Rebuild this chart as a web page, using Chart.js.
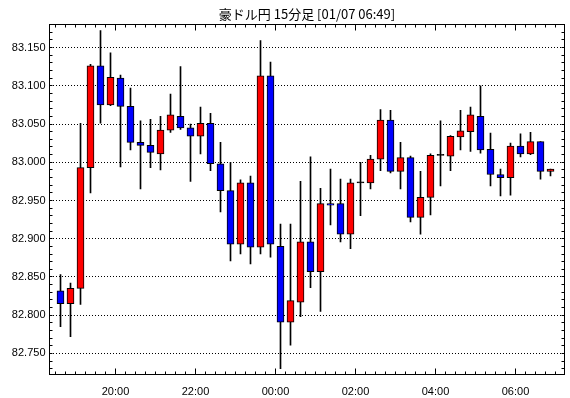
<!DOCTYPE html>
<html>
<head>
<meta charset="utf-8">
<script src="https://cdn.jsdelivr.net/npm/chart.js@4/dist/chart.umd.min.js"></script>
<style>
  html, body { margin: 0; padding: 0; background: #fff; }
</style>
</head>
<body>
<canvas id="chart" width="570" height="398"></canvas>
<script>
// 15-minute candles, 18:30 .. 06:45
const times = [
  '18:30', '18:45', '19:00', '19:15', '19:30', '19:45', '20:00', '20:15', '20:30', '20:45',
  '21:00', '21:15', '21:30', '21:45', '22:00', '22:15', '22:30', '22:45', '23:00', '23:15',
  '23:30', '23:45', '00:00', '00:15', '00:30', '00:45', '01:00', '01:15', '01:30', '01:45',
  '02:00', '02:15', '02:30', '02:45', '03:00', '03:15', '03:30', '03:45', '04:00', '04:15',
  '04:30', '04:45', '05:00', '05:15', '05:30', '05:45', '06:00', '06:15', '06:30', '06:45'
];
const open = [
  82.832, 82.815, 82.835, 82.993, 83.126, 83.075, 83.110, 83.073, 83.026, 83.022,
  83.011, 83.042, 83.060, 83.045, 83.034, 83.051, 82.998, 82.963, 82.893, 82.973,
  82.889, 83.113, 82.890, 82.791, 82.817, 82.896, 82.857, 82.946, 82.946, 82.906,
  82.973, 82.973, 83.004, 83.055, 82.988, 83.006, 82.928, 82.954, 83.009, 83.008,
  83.033, 83.040, 83.060, 83.017, 82.984, 82.980, 83.021, 83.011, 83.027, 82.988
];
const high = [
  82.853, 82.842, 83.051, 83.128, 83.172, 83.143, 83.114, 83.097, 83.054, 83.056,
  83.060, 83.089, 83.125, 83.050, 83.072, 83.064, 83.026, 83.000, 82.977, 82.982,
  83.159, 83.131, 82.919, 82.919, 82.975, 83.007, 82.966, 82.991, 82.978, 82.978,
  83.000, 83.009, 83.069, 83.068, 83.026, 83.008, 82.988, 83.011, 83.054, 83.035,
  83.068, 83.072, 83.100, 83.038, 82.991, 83.025, 83.037, 83.039, 83.027, 82.991
];
const low = [
  82.785, 82.772, 82.814, 82.960, 83.051, 83.074, 82.994, 83.016, 82.965, 82.993,
  82.990, 83.039, 83.043, 82.975, 83.011, 82.989, 82.935, 82.871, 82.880, 82.867,
  82.880, 82.876, 82.730, 82.761, 82.798, 82.836, 82.805, 82.918, 82.896, 82.887,
  82.930, 82.965, 82.989, 82.986, 82.965, 82.922, 82.906, 82.931, 82.969, 82.989,
  83.016, 83.014, 83.012, 82.969, 82.956, 82.957, 83.007, 83.010, 82.978, 82.982
];
const close = [
  82.815, 82.835, 82.993, 83.126, 83.075, 83.111, 83.073, 83.026, 83.022, 83.013,
  83.042, 83.062, 83.045, 83.034, 83.051, 82.998, 82.963, 82.893, 82.973, 82.889,
  83.113, 82.893, 82.791, 82.819, 82.896, 82.857, 82.946, 82.944, 82.906, 82.973,
  82.973, 83.004, 83.055, 82.988, 83.006, 82.928, 82.954, 83.009, 83.009, 83.034,
  83.041, 83.062, 83.016, 82.984, 82.980, 83.021, 83.011, 83.027, 82.988, 82.991
];
const timeLabels = ['20:00', '22:00', '00:00', '02:00', '04:00', '06:00'];
const priceLabels = [82.75, 82.80, 82.85, 82.90, 82.95, 83.00, 83.05, 83.10, 83.15];

Chart.defaults.font.family = '"Liberation Sans", Arial, sans-serif';
Chart.defaults.font.size = 11;
Chart.defaults.color = '#000';

const bodies = times.map((t, i) => ({ x: i, y: [open[i], close[i]] }));
const wicks = times.map((t, i) => ({ x: i, y: [low[i], high[i]] }));
const bodyColors = times.map((t, i) =>
  close[i] > open[i] ? '#ff0000' : close[i] < open[i] ? '#0000ff' : '#000000');

// tick position of a time label = left edge of the candle that starts there
const majorPos = timeLabels.map(l => times.indexOf(l) - 0.5);

// frame with inward tick marks, like the original
const frameTicks = {
  id: 'frameTicks',
  afterDatasetsDraw(chart) {
    const { ctx, chartArea: a, scales: { x, y } } = chart;
    ctx.save();
    ctx.strokeStyle = '#000';
    ctx.lineWidth = 1;
    ctx.beginPath();
    for (let k = 0; k <= times.length; k++) {
      const v = k - 0.5;
      const px = Math.round(x.getPixelForValue(v) - 0.5) + 0.5;
      if (px <= a.left || px >= a.right) continue;
      const len = majorPos.includes(v) ? 6 : 3;
      ctx.moveTo(px, a.bottom); ctx.lineTo(px, a.bottom - len);
      ctx.moveTo(px, a.top); ctx.lineTo(px, a.top + len);
    }
    for (let n = Math.ceil(y.min * 100); n <= Math.floor(y.max * 100); n++) {
      const py = Math.round(y.getPixelForValue(n / 100) - 0.5) + 0.5;
      ctx.moveTo(a.left, py); ctx.lineTo(a.left + 3, py);
      ctx.moveTo(a.right, py); ctx.lineTo(a.right - 3, py);
    }
    ctx.stroke();
    ctx.strokeRect(a.left, a.top, a.right - a.left, a.bottom - a.top);
    ctx.restore();
  }
};

new Chart(document.getElementById('chart'), {
  type: 'bar',
  data: {
    datasets: [
      {
        data: bodies,
        backgroundColor: bodyColors,
        borderColor: '#000',
        borderWidth: 1,
        borderSkipped: false,
        barThickness: 7,
        minBarLength: 1,
        grouped: false,
        order: 1
      },
      {
        data: wicks,
        backgroundColor: '#000',
        borderWidth: 0,
        barThickness: 1,
        grouped: false,
        order: 2
      }
    ]
  },
  options: {
    responsive: false,
    animation: false,
    layout: { padding: { left: 0, right: 5.5, top: 0, bottom: 0 } },
    plugins: {
      legend: { display: false },
      tooltip: { enabled: false },
      title: {
        display: true,
        text: '豪ドル円 15分足 [01/07 06:49]',
        fullSize: false,
        color: '#000',
        font: { family: '"Noto Sans CJK JP", sans-serif', size: 13, weight: 'normal', lineHeight: 1.2 },
        padding: { top: 6, bottom: 2.9 }
      }
    },
    scales: {
      x: {
        type: 'linear',
        min: -1.1,
        max: 50.4,
        offset: false,
        grid: { display: false, offset: false },
        border: { display: false },
        afterBuildTicks: s => { s.ticks = majorPos.map(v => ({ value: v })); },
        afterFit: s => { s.height = 23.5; },
        ticks: {
          autoSkip: false,
          maxRotation: 0,
          padding: 3,
          callback: v => timeLabels[majorPos.indexOf(v)]
        }
      },
      y: {
        min: 82.7225,
        max: 83.1801,
        grid: { color: '#000', lineWidth: 1, drawTicks: false },
        border: { display: false, dash: [1, 2] },
        afterBuildTicks: s => { s.ticks = priceLabels.map(v => ({ value: v })); },
        afterFit: s => { s.width = 49.5; },
        ticks: {
          padding: 4,
          callback: v => v.toFixed(3)
        }
      }
    }
  },
  plugins: [frameTicks]
});
</script>
</body>
</html>
